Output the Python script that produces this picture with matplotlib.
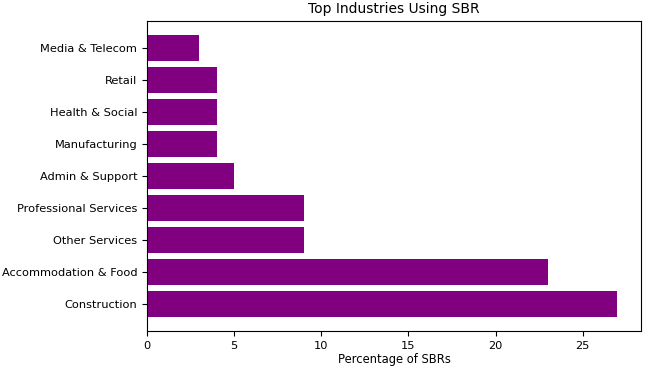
import matplotlib
matplotlib.use("Agg")
import matplotlib.pyplot as plt

industries = ["Construction", "Accommodation & Food", "Other Services",
              "Professional Services", "Admin & Support", "Manufacturing",
              "Health & Social", "Retail", "Media & Telecom"]
percentages = [27, 23, 9, 9, 5, 4, 4, 4, 3]

fig = plt.figure(figsize=(6.63, 3.76), dpi=100)
ax = fig.add_axes([147/663, 1-331/376, (641-147)/663, (331-21)/376])
ax.barh(industries, percentages, color="purple")
ax.set_xlabel("Percentage of SBRs", fontsize=8.3, labelpad=2)
ax.set_title("Top Industries Using SBR", fontsize=10)
ax.tick_params(labelsize=8.2)
fig.savefig("out.png", dpi=100)
